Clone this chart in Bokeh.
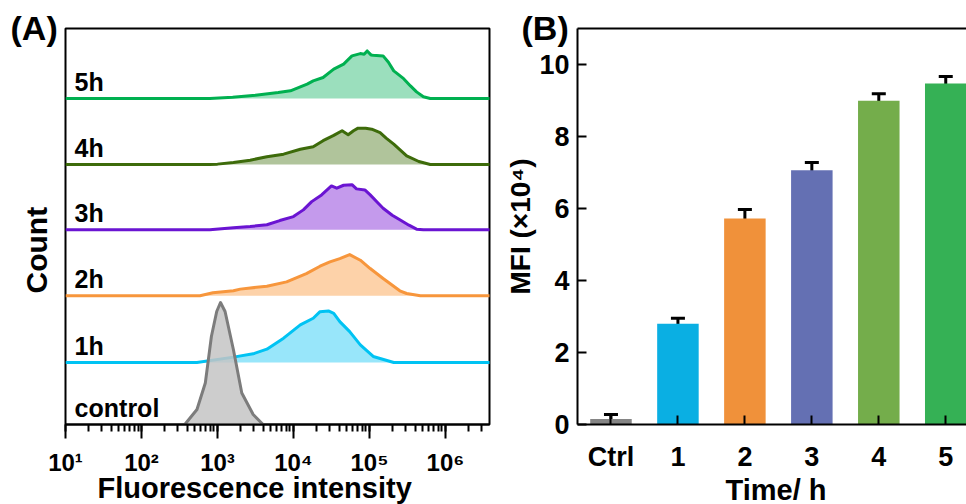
import numpy as np
from bokeh.plotting import figure
from bokeh.layouts import row
from bokeh.models import (ColumnDataSource, FixedTicker, LinearAxis, Title,
                          Range1d, Whisker, TeeHead)
from bokeh.core.properties import value
from bokeh.embed import file_html
from bokeh.resources import INLINE

FONT = "Liberation Sans"

# ---------------- Panel A data (log10 intensity, counts) ----------------
names = ["control", "1h", "2h", "3h", "4h", "5h"]
offsets = [0.0, 0.94, 1.95, 2.95, 3.94, 4.94]
line_colors = ["#7c7c7c", "#00c3f3", "#f7963c", "#6a14d2", "#3d6b0a", "#00b050"]
fill_colors = ["#c4c4c4", "#98e6fa", "#fdd2a9", "#c49aec", "#b0c49b", "#9bdfbd"]

control_log = [2.57, 2.73, 2.84, 2.92, 2.99, 3.04, 3.10, 3.21, 3.32, 3.47, 3.60]
control_cnt = [0, 22.7, 62.9, 133.4, 171.2, 184.8, 171.2, 113.3, 47.8, 15.1, 0]

h1_log = [1.0, 2.73, 3.21, 3.47, 3.65, 3.87, 4.09, 4.26, 4.35, 4.46, 4.53, 4.61,
          4.74, 4.88, 5.05, 5.32, 6.6]
h1_cnt = [0, 0, 8.1, 13.1, 20.1, 36.8, 56.9, 67, 77, 78, 74.5, 61.9, 46.8, 26.7,
          9.1, 0, 0]

h2_log = [1.0, 2.77, 2.94, 3.21, 3.30, 3.65, 3.91, 4.17, 4.35, 4.48, 4.61, 4.74,
          4.88, 5.01, 5.18, 5.40, 5.49, 5.67, 6.6]
h2_cnt = [0, 0, 4.5, 7.6, 10.1, 14.6, 21.1, 33.7, 44.8, 51.4, 56.4, 62.4, 53.9,
          41.3, 26.2, 7.6, 3.5, 0, 0]

h3_log = [1.0, 2.9, 3.21, 3.43, 3.65, 3.82, 4.0, 4.13, 4.24, 4.37, 4.50, 4.57,
          4.66, 4.77, 4.83, 4.94, 5.01, 5.10, 5.18, 5.30, 5.40, 5.52, 5.62, 5.71, 6.6]
h3_cnt = [0, 0, 3, 5, 7.6, 14, 20, 30.2, 42.7, 52.9, 66.5, 63, 67.5, 68.4, 62,
          60.4, 52.9, 42, 32.7, 22, 15.1, 7, 1, 0, 0]

h4_log = [1.0, 2.9, 3.0, 3.21, 3.43, 3.65, 3.87, 4.09, 4.26, 4.39, 4.53, 4.64,
          4.72, 4.79, 4.85, 4.95, 5.03, 5.14, 5.22, 5.32, 5.49, 5.65, 5.8, 6.6]
h4_cnt = [0, 0, 0.5, 3, 6.5, 11.6, 15.6, 23, 26.7, 36, 44, 51, 45, 51, 55, 55,
          53.5, 48.3, 40, 30.8, 13.1, 4.5, 0, 0]

h5_log = [1.0, 2.9, 3.2, 3.5, 3.8, 3.96, 4.18, 4.26, 4.39, 4.53, 4.66, 4.77, 4.88,
          4.93, 4.97, 5.02, 5.05, 5.18, 5.25, 5.32, 5.45, 5.54, 5.62, 5.71, 5.80, 6.6]
h5_cnt = [0, 0, 2, 5, 9, 11.6, 21.8, 26.7, 31.7, 44.4, 52, 64.5, 68, 67, 72, 66,
          65.6, 64.5, 55, 41.8, 30, 19, 10, 2.5, 0, 0]

curves_log = [control_log, h1_log, h2_log, h3_log, h4_log, h5_log]
curves_cnt = [control_cnt, h1_cnt, h2_cnt, h3_cnt, h4_cnt, h5_cnt]

x_ticks_A = [10, 100, 1000, 10000, 100000, 1000000]
x_tick_labels_A = ["10¹", "10²", "10³", "10⁴", "10⁵", "10⁶"]

# ---------------- Panel B data ----------------
categories = ["Ctrl", "1", "2", "3", "4", "5"]
mfi = [0.15, 2.80, 5.72, 7.06, 8.99, 9.47]
mfi_err = [0.13, 0.15, 0.25, 0.22, 0.20, 0.20]
bar_colors = ["#858585", "#0aafe3", "#f0913a", "#6470b3", "#74ad4b", "#35b155"]
y_ticks_B = [0, 2, 4, 6, 8, 10]


def make_title(text, size, align="left", offset=0, standoff=0, valign="middle"):
    return Title(text=text, align=align, offset=offset, standoff=standoff,
                 vertical_align=valign, text_font=FONT, text_font_style="bold",
                 text_font_size=size, text_color="black")


# ---------------- Panel A ----------------
pA = figure(width=500, height=504, x_axis_type="log",
            x_range=(10, 10 ** 6.58), y_range=(0, 6.0),
            output_backend="svg", toolbar_location=None,
            min_border_left=65, min_border_top=28, min_border_right=11,
            min_border_bottom=40)
pA.grid.visible = False
pA.outline_line_color = "black"
pA.outline_line_width = 2
pA.background_fill_color = "white"

scale = 100.0
order = [5, 4, 3, 2, 1, 0]
for i in order:
    xs = 10 ** np.array(curves_log[i])
    base = offsets[i]
    ys = base + np.array(curves_cnt[i]) / scale
    alpha = 0.85 if i == 0 else 1.0
    pA.varea(x=xs, y1=np.full(len(xs), base), y2=ys, fill_color=fill_colors[i],
             fill_alpha=alpha)
    pA.line(x=xs, y=ys, line_color=line_colors[i], line_width=3,
            line_join="round")

lab_src = ColumnDataSource(dict(
    x=[10 ** 1.12] * len(names),
    y=[o + 0.25 for o in offsets],
    t=names))
pA.text(x="x", y="y", text="t", source=lab_src, text_font=value(FONT),
        text_font_style="bold", text_font_size="25px",
        text_baseline="alphabetic", text_align="left", text_color="black")

xa = pA.xaxis[0]
xa.ticker.desired_num_ticks = 6
xa.major_label_overrides = dict(zip(x_ticks_A, x_tick_labels_A))
xa.major_tick_out = 14
xa.major_tick_in = 0
xa.minor_tick_out = 7
xa.minor_tick_in = 0
xa.major_tick_line_width = 2
xa.minor_tick_line_width = 2
xa.axis_line_width = 2
xa.major_label_text_font = FONT
xa.major_label_text_font_style = "bold"
xa.major_label_text_font_size = "24px"
xa.major_label_text_color = "black"
xa.major_label_standoff = 10

pA.yaxis.visible = False

pA.add_layout(make_title("Fluorescence intensity", "29px", offset=32,
                         standoff=-13, valign="top"), "below")
pA.add_layout(make_title("(A)", "34px", offset=-55, standoff=-39), "above")
pA.add_layout(make_title("Count", "30px", offset=131, standoff=24), "left")

# ---------------- Panel B ----------------
xpos = list(range(len(categories)))
src = ColumnDataSource(dict(
    x=xpos, top=mfi, color=bar_colors,
    upper=[m + e for m, e in zip(mfi, mfi_err)],
    lower=[m - e for m, e in zip(mfi, mfi_err)]))

pB = figure(width=466, height=504, x_range=Range1d(-0.5, 5.31),
            y_range=Range1d(0, 11), output_backend="svg",
            toolbar_location=None, min_border_left=77, min_border_top=28,
            min_border_right=0, min_border_bottom=40)
pB.grid.visible = False
pB.outline_line_color = None

pB.vbar(x="x", top="top", width=0.62, fill_color="color", line_color=None,
        source=src)
pB.add_layout(Whisker(base="x", upper="upper", lower="lower", source=src,
                      line_width=3, line_color="black",
                      upper_head=TeeHead(size=14, line_width=3, line_color="black"),
                      lower_head=TeeHead(size=14, line_width=3, line_color="black")))

bx = pB.xaxis[0]
bx.ticker = FixedTicker(ticks=xpos)
bx.major_label_overrides = dict(zip(xpos, categories))
bx.major_tick_in = 9
bx.major_tick_out = 0
bx.minor_tick_in = 0
bx.minor_tick_out = 0
bx.major_tick_line_width = 2
bx.axis_line_width = 2
bx.major_label_text_font = FONT
bx.major_label_text_font_style = "bold"
bx.major_label_text_font_size = "27px"
bx.major_label_text_color = "black"
bx.major_label_standoff = 17

by = pB.yaxis[0]
by.ticker = FixedTicker(ticks=y_ticks_B)
by.major_tick_in = 9
by.major_tick_out = 0
by.minor_tick_in = 0
by.minor_tick_out = 0
by.major_tick_line_width = 2
by.axis_line_width = 2
by.major_label_text_font = FONT
by.major_label_text_font_style = "bold"
by.major_label_text_font_size = "27px"
by.major_label_text_color = "black"
by.major_label_standoff = 8
by.axis_label = "MFI (×10⁴)"
by.axis_label_text_font = FONT
by.axis_label_text_font_style = "bold"
by.axis_label_text_font_size = "28px"
by.axis_label_text_color = "black"
by.axis_label_standoff = 0

top_ax = LinearAxis(ticker=FixedTicker(ticks=[]), axis_line_width=2,
                    major_tick_out=0, major_tick_in=0, minor_tick_out=0,
                    major_label_standoff=0)
pB.add_layout(top_ax, "above")

pB.add_layout(make_title("Time/ h", "29px", offset=148, standoff=-4), "below")
pB.add_layout(make_title("(B)", "34px", offset=-56, standoff=-39), "above")

layout = row(pA, pB)
open("out.html", "w").write(file_html(layout, INLINE))
